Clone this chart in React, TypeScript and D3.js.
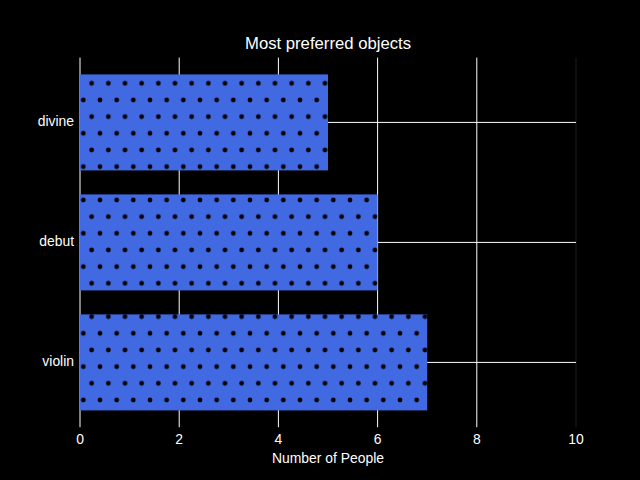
import React from 'react'
import * as d3 from 'd3'

const categories = ['divine', 'debut', 'violin']
const values = [5, 6, 7]
const xTicks = [0, 2, 4, 6, 8, 10]

const title = 'Most preferred objects'
const xLabel = 'Number of People'

export default function App() {
  const width = 640
  const height = 480
  const margin = { top: 57.6, right: 64, bottom: 52.8, left: 80 }
  const font = 'Liberation Sans, Arial, sans-serif'
  const r = 2.4

  const x = d3.scaleLinear().domain([0, 10]).range([margin.left, width - margin.right])
  const y = d3.scaleBand<string>()
    .domain(categories)
    .range([margin.top, height - margin.bottom])
    .paddingInner(0.2)
    .paddingOuter(0.14)

  const bottom = height - margin.bottom

  return (
    <svg width={width} height={height} style={{ position: 'absolute', left: 0, top: 0, background: '#000' }}>
      <defs>
        {/* dot hatch, anchored to the page like matplotlib's */}
        <pattern id="dots" patternUnits="userSpaceOnUse" width={50 / 3} height={100 / 3} x={0} y={0}>
          <rect width={50 / 3} height={100 / 3} fill="#4169e1" />
          <circle cx={0} cy={0} r={r} fill="#000" />
          <circle cx={50 / 3} cy={0} r={r} fill="#000" />
          <circle cx={0} cy={100 / 3} r={r} fill="#000" />
          <circle cx={50 / 3} cy={100 / 3} r={r} fill="#000" />
          <circle cx={25 / 3} cy={50 / 3} r={r} fill="#000" />
        </pattern>
      </defs>
      <rect width={width} height={height} fill="#000" />

      {/* grid */}
      {xTicks.map((t, i) => (
        <line key={'gx' + t} x1={x(t)} x2={x(t)} y1={margin.top} y2={bottom}
          stroke={i === xTicks.length - 1 ? '#1c1c1c' : '#fff'} strokeWidth={1} />
      ))}
      {categories.map(c => (
        <line key={'gy' + c} x1={margin.left} x2={width - margin.right}
          y1={y(c)! + y.bandwidth() / 2} y2={y(c)! + y.bandwidth() / 2} stroke="#fff" strokeWidth={1} />
      ))}

      {/* bars */}
      {categories.map((c, i) => (
        <rect key={c} x={x(0)} y={y(c)} width={x(values[i]) - x(0)} height={y.bandwidth()} fill="url(#dots)" />
      ))}

      {/* ticks labels */}
      {xTicks.map(t => (
        <text key={'tx' + t} x={x(t)} y={443.5} fill="#fff" fontSize={13.9} fontFamily={font} textAnchor="middle">{t}</text>
      ))}
      {categories.map(c => (
        <text key={'ty' + c} x={74} y={y(c)! + y.bandwidth() / 2 + 4} fill="#fff" fontSize={13.9} fontFamily={font} textAnchor="end">{c}</text>
      ))}

      <text x={(margin.left + width - margin.right) / 2} y={48.5} fill="#fff" fontSize={16.7} fontFamily={font} textAnchor="middle">{title}</text>
      <text x={(margin.left + width - margin.right) / 2} y={462.5} fill="#fff" fontSize={13.9} fontFamily={font} textAnchor="middle">{xLabel}</text>
    </svg>
  )
}
